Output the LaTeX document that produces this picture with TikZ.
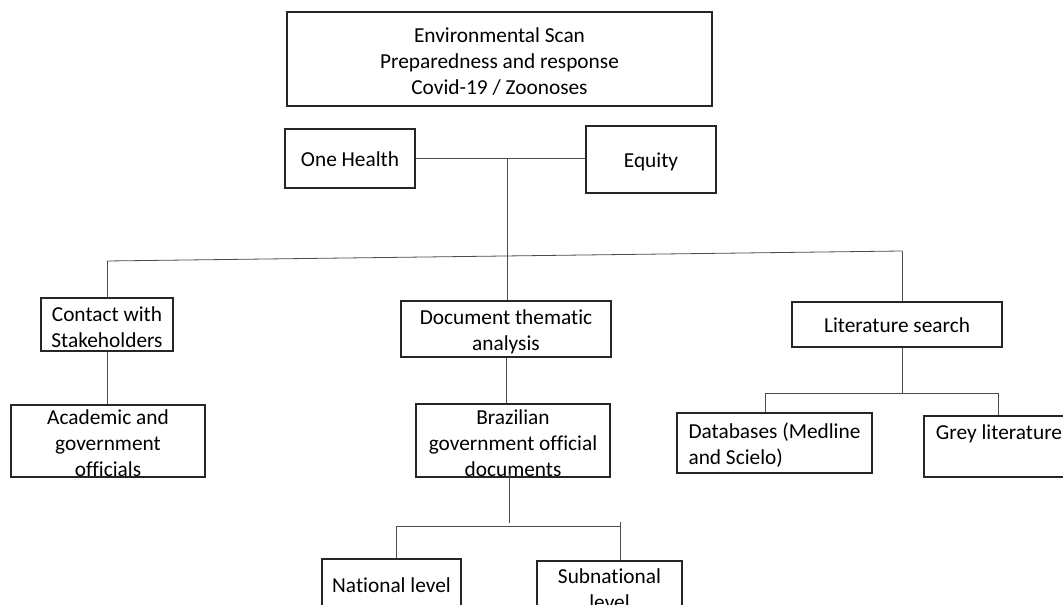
\documentclass[tikz,border=0pt]{standalone}
\usepackage{fontspec}
\setmainfont{Carlito}[Ligatures=NoCommon]
\newcommand\topstrut{\rule{0pt}{14.6pt}}
\begin{document}
\begin{tikzpicture}[x=0.75pt,y=-0.75pt,
  box/.style={draw=black!85, line width=0.9pt, inner sep=0pt, align=center, font=\fontsize{16}{19.5}\selectfont},
  single/.style={text height=13pt, text depth=1.6pt},
  toptext/.style={text height=13pt, text depth=23pt},
  link/.style={draw=black!70, line width=0.6pt}]
\useasboundingbox (0,0) rectangle (1063,605);
% nodes
\node[box, minimum width=318.75pt, minimum height=70.5pt] (top) at (499.5,59) {\topstrut Environmental Scan\\Preparedness and response\\Covid-19 / Zoonoses};
\node[box, single, minimum width=97.5pt, minimum height=44.25pt] (onehealth) at (350,158.5) {One Health};
\node[box, single, minimum width=97.5pt, minimum height=50.25pt] (equity) at (651,159.5) {Equity};
\node[box, minimum width=99pt, minimum height=39.75pt] (contact) at (107,324.5) {\topstrut Contact with\\Stakeholders};
\node[box, minimum width=157.5pt, minimum height=42pt] (document) at (506,329) {\topstrut Document thematic\\analysis};
\node[box, single, minimum width=157.5pt, minimum height=33.75pt] (litsearch) at (897,324.5) {Literature search};
\node[box, minimum width=145.5pt, minimum height=54pt] (academic) at (108,441) {\topstrut Academic and\\government\\officials};
\node[box, minimum width=145.5pt, minimum height=54.75pt] (brazilian) at (513,440.5) {\topstrut Brazilian\\government official\\documents};
\node[box, align=left, minimum width=146.25pt, minimum height=45pt] (databases) at (774.5,443) {\topstrut Databases (Medline\\and Scielo)};
\node[box, toptext, minimum width=112.5pt, minimum height=45.75pt] (grey) at (999,446.5) {Grey literature};
\node[box, single, minimum width=104.25pt, minimum height=39pt] (national) at (391.5,585) {National level};
\node[box, minimum width=108.75pt, minimum height=39pt] (subnational) at (609.5,587) {\topstrut Subnational\\level};
% junction coordinates
\coordinate (J1) at (507,158.5);
\coordinate (busL) at (107,261);
\coordinate (busR) at (902,251);
\coordinate (L2) at (902,393);
\coordinate (b2L) at (765,393);
\coordinate (b2R) at (998,393);
\coordinate (B1) at (509,474);
\coordinate (B2) at (509,523);
\coordinate (b3L) at (396,526);
\coordinate (b3R) at (620,526);
\coordinate (b3Rt) at (620,522);
% connectors
\draw[link] (onehealth.east) -- (onehealth.east -| equity.west);
\draw[link] (J1) -- (J1 |- document.north);
\draw[link] (busL) -- (busR);
\draw[link] (busL) -- (contact.north);
\draw[link] (busR) -- (busR |- litsearch.north);
\draw[link] (busR |- litsearch.south) -- (L2);
\draw[link] (b2L) -- (b2R);
\draw[link] (b2L) -- (b2L |- databases.north);
\draw[link] (b2R) -- (b2R |- grey.north);
\draw[link] (contact.south) -- (contact.south |- academic.north);
\draw[link] (document.south) -- (document.south |- brazilian.north);
\draw[link] (B1) -- (B2);
\draw[link] (b3L) -- (b3R);
\draw[link] (b3Rt) -- (b3Rt |- subnational.north);
\draw[link] (b3L) -- (b3L |- national.north);
\end{tikzpicture}
\end{document}
